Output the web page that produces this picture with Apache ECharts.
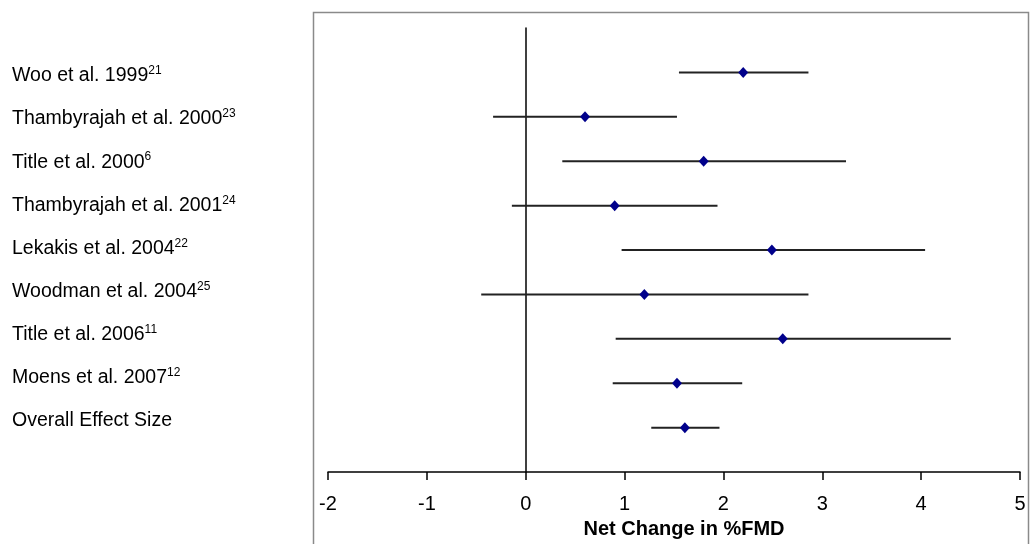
<!DOCTYPE html>
<html>
<head>
<meta charset="utf-8">
<style>
  html, body { margin: 0; padding: 0; background: #fff; }
  #chart { width: 1034px; height: 544px; }
</style>
<script src="https://cdn.jsdelivr.net/npm/echarts@6/dist/echarts.min.js"></script>
</head>
<body>
<div id="chart"></div>
<script>
// ---- data ----
const studies = ['Woo et al. 1999', 'Thambyrajah et al. 2000', 'Title et al. 2000',
  'Thambyrajah et al. 2001', 'Lekakis et al. 2004', 'Woodman et al. 2004',
  'Title et al. 2006', 'Moens et al. 2007', 'Overall Effect Size'];
const refs = ['21', '23', '6', '24', '22', '25', '11', '12', ''];
const estimate = [2.20, 0.60, 1.80, 0.90, 2.49, 1.20, 2.60, 1.53, 1.61];
const lower    = [1.55, -0.33, 0.37, -0.14, 0.97, -0.45, 0.91, 0.88, 1.27];
const upper    = [2.86, 1.53, 3.24, 1.94, 4.04, 2.86, 4.30, 2.19, 1.96];
const xTicks = [-2, -1, 0, 1, 2, 3, 4, 5];

// row position: first study at top
const rowY = studies.map((s, i) => studies.length - i);

const chart = echarts.init(document.getElementById('chart'));
const font = '"Liberation Sans", Arial, Helvetica, sans-serif';

const option = {
  animation: false,
  backgroundColor: '#fff',
  graphic: [{
    type: 'rect',
    shape: { x: 313.5, y: 12.5, width: 715, height: 560 },
    style: { fill: 'none', stroke: '#8a8a8a', lineWidth: 1.5 },
    silent: true, z: -1
  }],
  grid: [
    { left: 328, right: 14, top: 28, bottom: 69 },
    { left: 12, width: 1, top: 54.4, bottom: 101.6 }
  ],
  xAxis: [{
    gridIndex: 0, type: 'value', min: xTicks[0], max: xTicks[xTicks.length - 1], interval: 1,
    position: 'bottom',
    axisLine: { onZero: false, lineStyle: { color: '#000', width: 1.5 } },
    axisTick: { show: true, length: 8, lineStyle: { color: '#000', width: 1.5 } },
    splitLine: { show: false },
    axisLabel: {
      margin: 22, fontSize: 20, color: '#000', fontFamily: font,
      formatter: v => String(v)
    },
    name: 'Net Change in %FMD',
    nameLocation: 'middle', nameGap: 45,
    nameTextStyle: { fontSize: 20, fontWeight: 'bold', color: '#000', fontFamily: font, padding: [0, 0, 0, 20] }
  }, {
    gridIndex: 1, type: 'value', show: false
  }],
  yAxis: [{
    gridIndex: 0, type: 'value', min: 0, max: 10,
    axisLine: { show: true, onZero: true, lineStyle: { color: '#000', width: 1.5 } },
    axisTick: { show: false }, axisLabel: { show: false }, splitLine: { show: false }
  }, {
    gridIndex: 1, type: 'category', data: studies, inverse: true,
    axisLine: { show: false }, axisTick: { show: false }, splitLine: { show: false },
    axisLabel: {
      inside: true, margin: 0, align: 'left',
      formatter: (v, i) => '{n|' + v + '}' + (refs[i] ? '{s|' + refs[i] + '}' : ''),
      rich: {
        n: { fontSize: 19.5, color: '#000', fontFamily: font, lineHeight: 22 },
        s: { fontSize: 12, color: '#000', fontFamily: font, lineHeight: 12, verticalAlign: 'top' }
      }
    }
  }],
  series: [{
    type: 'custom',
    xAxisIndex: 0, yAxisIndex: 0,
    data: studies.map((s, i) => [lower[i], upper[i], rowY[i]]),
    renderItem: (params, api) => {
      const a = api.coord([api.value(0), api.value(2)]);
      const b = api.coord([api.value(1), api.value(2)]);
      return {
        type: 'line',
        shape: { x1: a[0], y1: a[1], x2: b[0], y2: b[1] },
        style: { stroke: '#222', lineWidth: 2 }
      };
    },
    encode: { x: [0, 1], y: 2 },
    z: 2
  }, {
    type: 'scatter',
    xAxisIndex: 0, yAxisIndex: 0,
    data: studies.map((s, i) => [estimate[i], rowY[i]]),
    symbol: 'diamond', symbolSize: [10, 11],
    itemStyle: { color: '#00008b', opacity: 1 },
    z: 3
  }]
};
chart.setOption(option);
</script>
</body>
</html>
